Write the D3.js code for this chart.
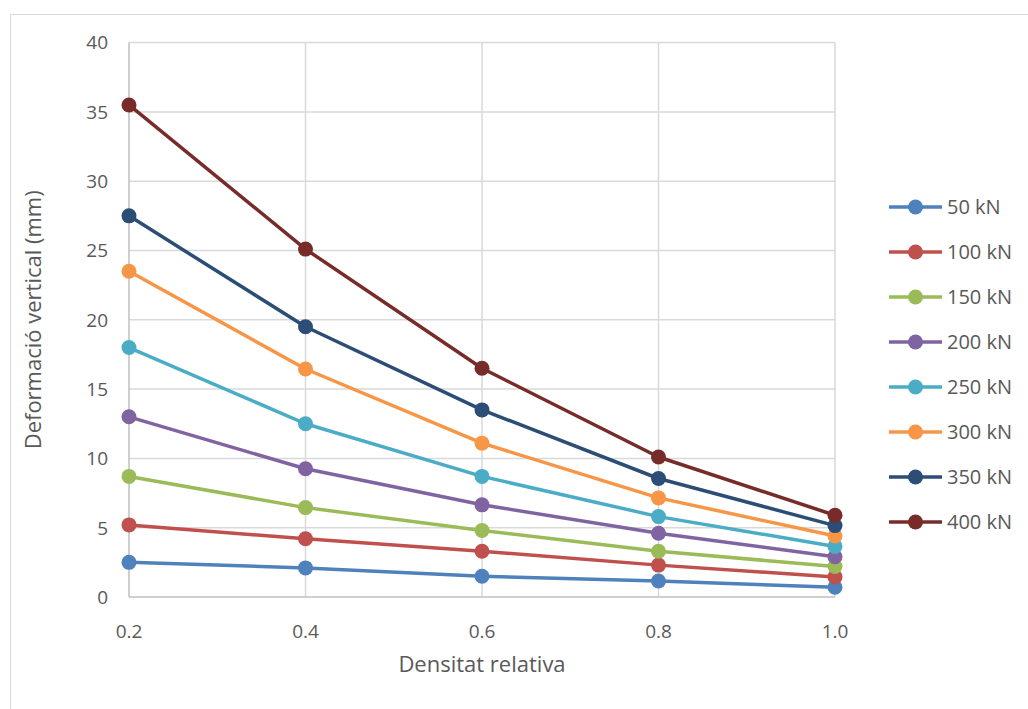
<!DOCTYPE html>
<html>
<head>
<meta charset="utf-8">
<title>Deformació vertical</title>
<style>
  body { margin: 0; background: #fff; }
  text { font-family: "Open Sans", "Noto Sans", sans-serif; fill: #595959; }
</style>
</head>
<body>
<svg width="1028" height="709"></svg>
<script src="https://d3js.org/d3.v7.min.js"></script>
<script>
// data
var densities = [0.2, 0.4, 0.6, 0.8, 1.0];
var seriesNames = ["50 kN", "100 kN", "150 kN", "200 kN", "250 kN", "300 kN", "350 kN", "400 kN"];
var colors = ["#4F81BD", "#C0504D", "#9BBB59", "#8064A2", "#4BACC6", "#F79646", "#2C4D75", "#772C2A"];
var s50  = [2.5, 2.1, 1.5, 1.15, 0.7];
var s100 = [5.2, 4.2, 3.3, 2.3, 1.45];
var s150 = [8.7, 6.45, 4.8, 3.3, 2.2];
var s200 = [13.0, 9.25, 6.65, 4.6, 2.9];
var s250 = [18.0, 12.5, 8.7, 5.8, 3.65];
var s300 = [23.5, 16.45, 11.1, 7.15, 4.4];
var s350 = [27.5, 19.5, 13.5, 8.55, 5.15];
var s400 = [35.5, 25.1, 16.5, 10.1, 5.9];
var yTicks = [0, 5, 10, 15, 20, 25, 30, 35, 40];

var allSeries = [s50, s100, s150, s200, s250, s300, s350, s400];

var svg = d3.select("svg");

// outer chart frame (cut off at the right and bottom, like the reference)
svg.append("rect")
  .attr("x", 10.5).attr("y", 14.5)
  .attr("width", 1100).attr("height", 800)
  .attr("fill", "none")
  .attr("stroke", "#d9d9d9")
  .attr("stroke-width", 1);

// plot area (avoid "top" - it's window.top)
var pLeft = 129, pRight = 835, pTop = 42.6, pBottom = 597;

var x = d3.scaleLinear().domain([0.2, 1.0]).range([pLeft, pRight]);
var y = d3.scaleLinear().domain([0, 40]).range([pBottom, pTop]);

// gridlines
svg.append("g").selectAll("line")
  .data(yTicks.slice(1))
  .enter().append("line")
    .attr("x1", pLeft).attr("x2", pRight)
    .attr("y1", function(d) { return y(d); })
    .attr("y2", function(d) { return y(d); })
    .attr("stroke", "#d9d9d9")
    .attr("stroke-width", 1.5);

svg.append("g").selectAll("line")
  .data(densities.slice(1))
  .enter().append("line")
    .attr("x1", function(d) { return x(d); })
    .attr("x2", function(d) { return x(d); })
    .attr("y1", pTop).attr("y2", pBottom)
    .attr("stroke", "#d9d9d9")
    .attr("stroke-width", 1.5);

// axis lines
svg.append("line")
  .attr("x1", pLeft).attr("x2", pLeft).attr("y1", pTop).attr("y2", pBottom)
  .attr("stroke", "#bfbfbf").attr("stroke-width", 1.5);
svg.append("line")
  .attr("x1", pLeft).attr("x2", pRight).attr("y1", pBottom).attr("y2", pBottom)
  .attr("stroke", "#bfbfbf").attr("stroke-width", 1.5);

// tick labels
svg.append("g").selectAll("text")
  .data(yTicks)
  .enter().append("text")
    .attr("x", 108)
    .attr("y", function(d) { return y(d); })
    .attr("dy", "0.36em")
    .attr("text-anchor", "end")
    .attr("font-size", 19)
    .text(function(d) { return d; });

svg.append("g").selectAll("text")
  .data(densities)
  .enter().append("text")
    .attr("x", function(d) { return x(d); })
    .attr("y", 638)
    .attr("text-anchor", "middle")
    .attr("font-size", 19)
    .text(function(d) { return d3.format(".1f")(d); });

// axis titles
svg.append("text")
  .attr("x", (pLeft + pRight) / 2)
  .attr("y", 672)
  .attr("text-anchor", "middle")
  .attr("font-size", 22)
  .text("Densitat relativa");

svg.append("text")
  .attr("transform", "translate(41," + ((pTop + pBottom) / 2) + ") rotate(-90)")
  .attr("text-anchor", "middle")
  .attr("font-size", 22)
  .text("Deformació vertical (mm)");

// series
var line = d3.line()
  .x(function(d, i) { return x(densities[i]); })
  .y(function(d) { return y(d); });

allSeries.forEach(function(vals, k) {
  var g = svg.append("g");
  g.append("path")
    .datum(vals)
    .attr("d", line)
    .attr("fill", "none")
    .attr("stroke", colors[k])
    .attr("stroke-width", 3.5)
    .attr("stroke-linejoin", "round");
  g.selectAll("circle")
    .data(vals)
    .enter().append("circle")
      .attr("cx", function(d, i) { return x(densities[i]); })
      .attr("cy", function(d) { return y(d); })
      .attr("r", 7.5)
      .attr("fill", colors[k]);
});

// legend
var legend = svg.append("g").selectAll("g")
  .data(seriesNames)
  .enter().append("g")
    .attr("transform", function(d, i) { return "translate(0," + (207 + i * 45) + ")"; });

legend.append("line")
  .attr("x1", 889).attr("x2", 942)
  .attr("stroke", function(d, i) { return colors[i]; })
  .attr("stroke-width", 3.5);
legend.append("circle")
  .attr("cx", 915.5).attr("r", 7.5)
  .attr("fill", function(d, i) { return colors[i]; });
legend.append("text")
  .attr("x", 947)
  .attr("dy", "0.36em")
  .attr("font-size", 20)
  .text(function(d) { return d; });
</script>
</body>
</html>
